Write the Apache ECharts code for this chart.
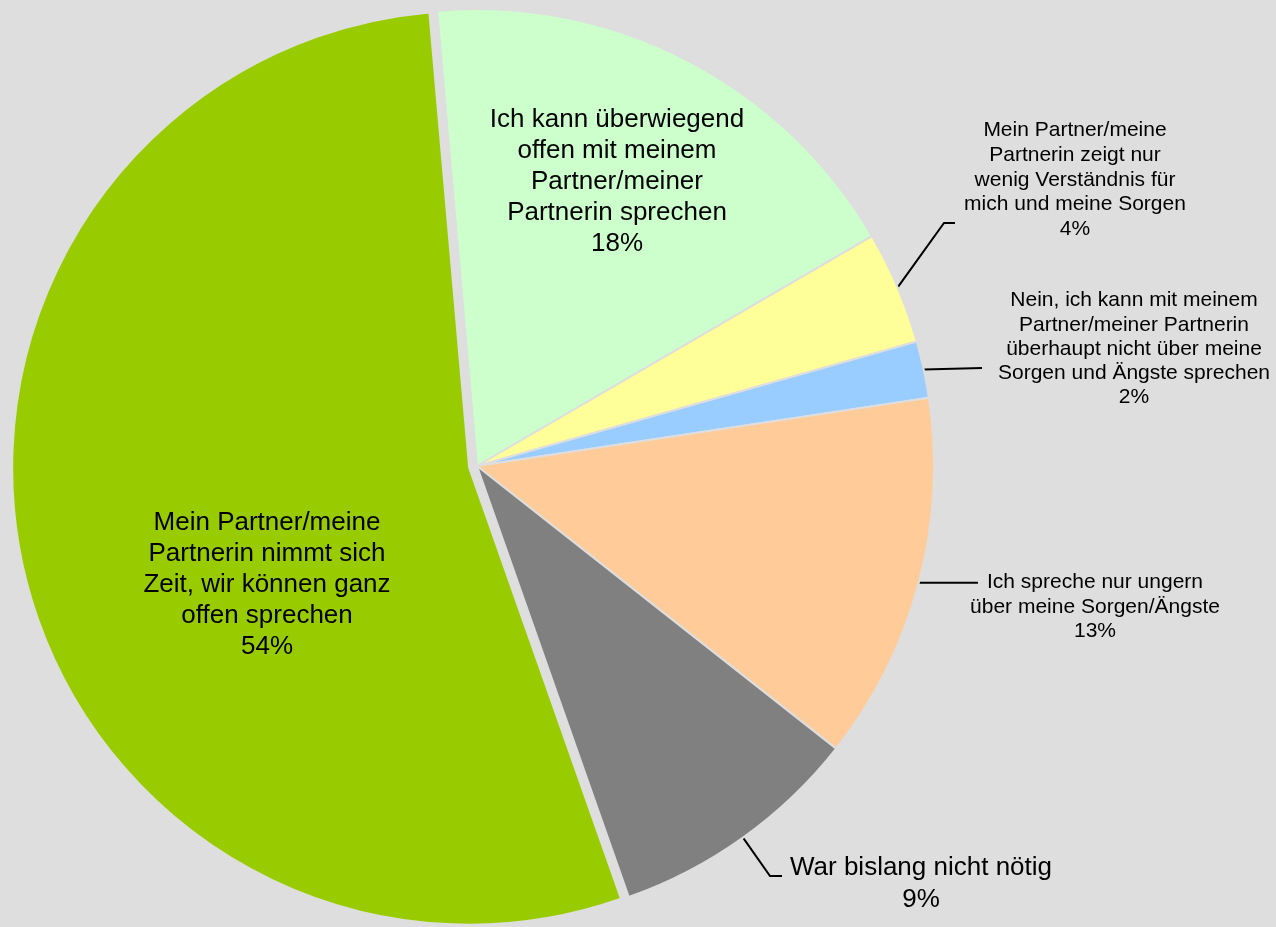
<!DOCTYPE html>
<html>
<head>
<meta charset="utf-8">
<title>Gespräche mit dem Partner</title>
<script src="https://cdn.jsdelivr.net/npm/echarts@6/dist/echarts.min.js"></script>
<style>
  html, body { margin: 0; padding: 0; background: #dedede; }
  #chart { width: 1276px; height: 927px; }
</style>
</head>
<body>
<div id="chart"></div>
<script>
// Answer categories (line breaks as they are drawn in the labels)
const categories = [
  'Ich kann überwiegend\noffen mit meinem\nPartner/meiner\nPartnerin sprechen',
  'Mein Partner/meine\nPartnerin zeigt nur\nwenig Verständnis für\nmich und meine Sorgen',
  'Nein, ich kann mit meinem\nPartner/meiner Partnerin\nüberhaupt nicht über meine\nSorgen und Ängste sprechen',
  'Ich spreche nur ungern\nüber meine Sorgen/Ängste',
  'War bislang nicht nötig',
  'Mein Partner/meine\nPartnerin nimmt sich\nZeit, wir können ganz\noffen sprechen'
];
// Share of respondents, in percent
const shares = [18, 4, 2, 13, 9, 54];

// Slice fills
const sliceColors = ['#ccffcc', '#ffff99', '#99ccff', '#ffcc99', '#808080', '#99cc00'];

// Label placement per slice: centre of the text block, text size,
// and (for outside labels) the elbow/end of the leader line.
// A null y keeps the segment level with the point on the pie edge.
const labelPlacement = [
  { x: 617, y: 182, size: 26, lh: 31 },
  { x: 1075, y: 180, size: 21, lh: 24.7, line: [[944, 223], [955, 223]] },
  { x: 1134, y: 349, size: 21, lh: 24.2, line: [[982, 368]] },
  { x: 1095, y: 607, size: 21, lh: 24.5, line: [[978, null]] },
  { x: 921, y: 884, size: 26, lh: 32, line: [[770, 876], [782, 876]] },
  { x: 267, y: 585, size: 26, lh: 31 }
];

const BG = '#dedede';
const FONT = '"Liberation Sans", Arial, sans-serif';
const CENTER = [477, 466];
const RADIUS = 457;
const START_ANGLE = 95;     // degrees, ECharts convention (90 = twelve o'clock)
const EXPLODED = 5;         // index of the slice pulled out of the pie
const EXPLODE_DIST = 8;     // px

// Centre of the pulled-out slice: shift along its bisector
const total = shares.reduce(function (a, b) { return a + b; }, 0);
const before = shares.slice(0, EXPLODED).reduce(function (a, b) { return a + b; }, 0);
const midDeg = START_ANGLE - 360 * (before + shares[EXPLODED] / 2) / total;
const midRad = midDeg * Math.PI / 180;
const explodedCenter = [
  CENTER[0] + EXPLODE_DIST * Math.cos(midRad),
  CENTER[1] - EXPLODE_DIST * Math.sin(midRad)
];

// Main pie: every slice except the pulled-out one is filled here,
// all labels and leader lines are drawn here.
const mainData = categories.map(function (name, i) {
  const pl = labelPlacement[i];
  const outside = !!pl.line;
  const hidden = i === EXPLODED;
  return {
    name: name,
    value: shares[i],
    itemStyle: hidden
      ? { color: 'rgba(0,0,0,0)', borderWidth: 0 }
      : { color: sliceColors[i] },
    label: {
      position: outside ? 'outside' : 'inside',
      fontSize: pl.size,
      lineHeight: pl.lh
    },
    labelLine: { show: outside }
  };
});

// Second pie with the same values, offset centre: only the pulled-out slice is filled
const explodedData = categories.map(function (name, i) {
  return {
    name: name,
    value: shares[i],
    itemStyle: i === EXPLODED
      ? { color: sliceColors[i] }
      : { color: 'rgba(0,0,0,0)', borderWidth: 0 }
  };
});

const chart = echarts.init(document.getElementById('chart'), null, { renderer: 'canvas' });

chart.setOption({
  backgroundColor: BG,
  animation: false,
  series: [{
    type: 'pie',
    name: 'exploded',
    silent: true,
    center: explodedCenter,
    radius: RADIUS,
    startAngle: START_ANGLE,
    clockwise: true,
    itemStyle: { borderColor: BG, borderWidth: 2 },
    emphasis: { disabled: true },
    label: { show: false },
    labelLine: { show: false },
    data: explodedData
  }, {
    type: 'pie',
    name: 'main',
    center: CENTER,
    radius: RADIUS,
    startAngle: START_ANGLE,
    clockwise: true,
    avoidLabelOverlap: false,
    percentPrecision: 0,
    itemStyle: { borderColor: BG, borderWidth: 2 },
    emphasis: { disabled: true },
    label: {
      show: true,
      color: '#000',
      fontFamily: FONT,
      align: 'center',
      formatter: '{b}\n{d}%'
    },
    labelLine: {
      lineStyle: { color: '#000', width: 2 }
    },
    labelLayout: function (p) {
      const pl = labelPlacement[p.dataIndex];
      const out = { x: pl.x, y: pl.y, align: 'center', verticalAlign: 'middle' };
      if (pl.line && p.labelLinePoints && p.labelLinePoints.length) {
        const start = p.labelLinePoints[0];
        out.labelLinePoints = [start].concat(pl.line.map(function (pt) {
          return [pt[0], pt[1] == null ? start[1] : pt[1]];
        }));
      }
      return out;
    },
    data: mainData
  }]
});
</script>
</body>
</html>
